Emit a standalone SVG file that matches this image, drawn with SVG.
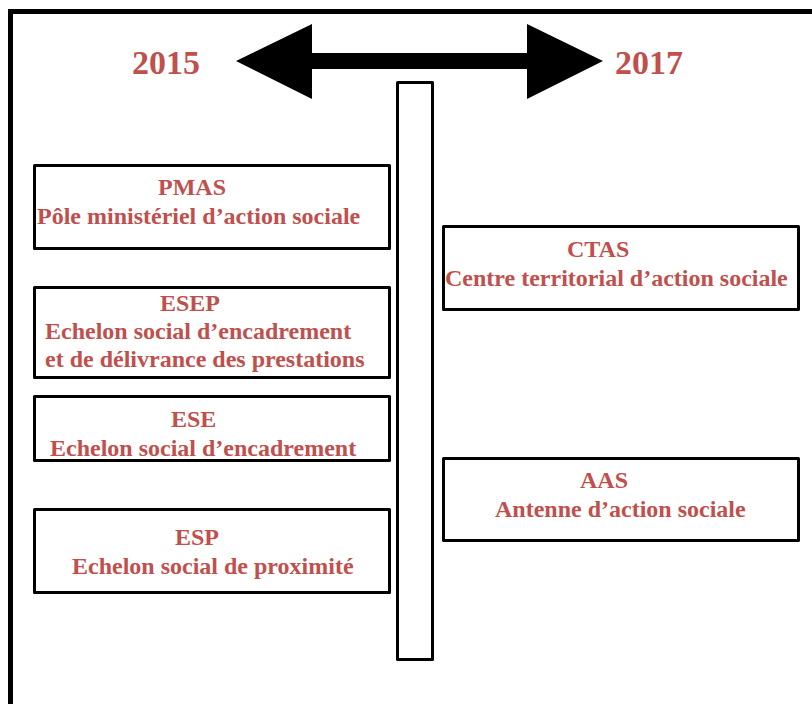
<svg xmlns="http://www.w3.org/2000/svg" width="812" height="704" viewBox="0 0 812 704">
  <style>
    .box { fill: #ffffff; stroke: #000000; stroke-width: 3; stroke-linejoin: round; }
    .t { font-family: "Liberation Serif", "Times New Roman", serif; font-weight: bold; font-size: 24px; fill: #c0504d; }
    .year { font-family: "Liberation Serif", "Times New Roman", serif; font-weight: bold; font-size: 34px; fill: #c0504d; }
  </style>
  <rect x="0" y="0" width="812" height="704" fill="#ffffff"/>
  <rect id="frame" x="10.5" y="11.5" width="820" height="720" fill="none" stroke="#000000" stroke-width="5"/>

  <g id="connectors">
    <polygon points="236,61 312,24 312,53 527,53 527,24 603,61 527,99 527,69 312,69 312,99" fill="#000000"/>
  </g>

  <g id="year-2015"><text class="year" x="132" y="74">2015</text></g>
  <g id="year-2017"><text class="year" x="615" y="74">2017</text></g>

  <g id="timeline-bar">
    <rect class="box" x="397.5" y="82.5" width="35" height="577"/>
  </g>

  <g id="pmas">
    <rect class="box" x="34.5" y="165.5" width="355" height="83"/>
    <text class="t" x="158" y="195">PMAS</text>
    <text class="t" x="37" y="224">Pôle ministériel d’action sociale</text>
  </g>

  <g id="esep">
    <rect class="box" x="34.5" y="287.5" width="355" height="90"/>
    <text class="t" x="160" y="311">ESEP</text>
    <text class="t" x="45" y="339">Echelon social d’encadrement</text>
    <text class="t" x="45" y="367">et de délivrance des prestations</text>
  </g>

  <g id="ese">
    <rect class="box" x="34.5" y="396.5" width="355" height="64"/>
    <text class="t" x="171" y="427">ESE</text>
    <text class="t" x="50" y="456">Echelon social d’encadrement</text>
  </g>

  <g id="esp">
    <rect class="box" x="34.5" y="509.5" width="355" height="83"/>
    <text class="t" x="175" y="545">ESP</text>
    <text class="t" x="72" y="574">Echelon social de proximité</text>
  </g>

  <g id="ctas">
    <rect class="box" x="443.5" y="226.5" width="355" height="83"/>
    <text class="t" x="567" y="257">CTAS</text>
    <text class="t" x="445" y="286">Centre territorial d’action sociale</text>
  </g>

  <g id="aas">
    <rect class="box" x="443.5" y="458.5" width="355" height="82"/>
    <text class="t" x="580" y="488">AAS</text>
    <text class="t" x="495" y="517">Antenne d’action sociale</text>
  </g>
</svg>
